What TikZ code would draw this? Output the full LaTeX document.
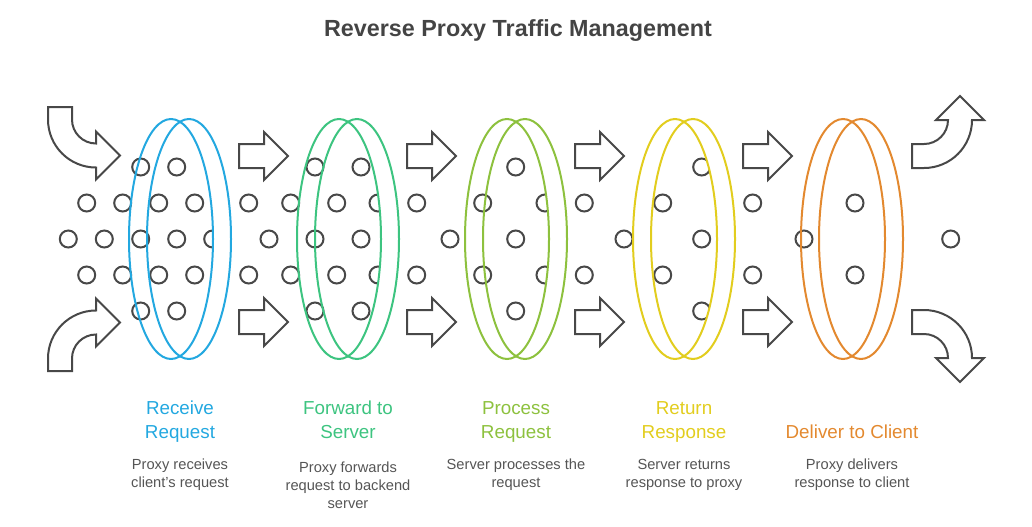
\documentclass[tikz,border=0pt]{standalone}
\usepackage{fontspec}
\setmainfont{Liberation Sans}

\definecolor{ringblue}{RGB}{35,168,224}
\definecolor{ringgreen}{RGB}{61,196,128}
\definecolor{ringolive}{RGB}{141,193,62}
\definecolor{ringyellow}{RGB}{226,205,30}
\definecolor{ringorange}{RGB}{227,137,47}
\definecolor{dotgray}{RGB}{72,72,72}
\definecolor{descgray}{RGB}{85,85,85}
\definecolor{titlegray}{RGB}{68,68,68}

% curved arrows at the two ends
\newcommand\bendin[1]{\draw[blockarrow,#1] (48,107) -- (72,107) -- (72,119.5)
  arc[start angle=180,end angle=90,radius=24] -- (96,131.5) -- (120,155.5)
  -- (96,179.5) -- (96,167.5) arc[start angle=90,end angle=180,radius=48] -- cycle;}
\newcommand\bendout[1]{\draw[blockarrow,#1] (912,144) -- (924,144)
  arc[start angle=90,end angle=0,radius=24] -- (936,120) -- (960,96) -- (984,120)
  -- (972,120) arc[start angle=0,end angle=90,radius=48] -- (912,168) -- cycle;}

\begin{document}
\begin{tikzpicture}[x=0.75pt,y=-0.75pt]
    \tikzstyle{dot}=[draw=dotgray,line width=1.5pt]
    \tikzstyle{blockarrow}=[draw=dotgray,line width=1.5pt,fill=white]
    \tikzstyle{ring}=[line width=1.5pt]
    \tikzstyle{steptitle}=[anchor=south,inner sep=0pt,text depth=0pt,align=center,font=\fontsize{14.1}{17.5}\selectfont]
    \tikzstyle{stepdesc}=[anchor=north,inner sep=0pt,align=center,text=descgray,font=\fontsize{11}{13.5}\selectfont]
    \useasboundingbox (0,0) rectangle (1032,526);

    \node[font=\bfseries\fontsize{17.5}{21}\selectfont,text=titlegray] (title) at (518,31) {Reverse Proxy Traffic Management};

    % traffic dots
    \foreach \x/\y in {140.7/167,176.7/167,86.7/203,122.7/203,158.7/203,194.7/203,
        68.3/239,104.3/239,140.7/239,176.7/239,212.7/239,
        86.7/275,122.7/275,158.7/275,194.7/275,140.7/311,176.7/311,
        315/167,361/167,248.7/203,290.7/203,336.7/203,378/203,269/239,315/239,361/239,
        248.7/275,290.7/275,336.7/275,378/275,315/311,361/311,
        515.7/167,416.7/203,482.7/203,545/203,450/239,515.7/239,416.7/275,482.7/275,545/275,515.7/311,
        701.7/167,584.3/203,662.7/203,752.7/203,624/239,701.7/239,584.3/275,662.7/275,752.7/275,701.7/311,
        855/203,804/239,950.7/239,855/275}
        \draw[dot] (\x,\y) circle[radius=8.5];

    % rings
    \foreach \c/\col in {180/ringblue,348/ringgreen,516/ringolive,684/ringyellow,852/ringorange}{
        \begin{scope}
            \clip (\c+9,239) ellipse[x radius=42,y radius=120];
            \fill[white,even odd rule] (\c+9,239) ellipse[x radius=42,y radius=120] (\c-9,239) ellipse[x radius=42,y radius=120];
        \end{scope}
        \draw[ring,\col] (\c-9,239) ellipse[x radius=42,y radius=120];
        \draw[ring,\col] (\c+9,239) ellipse[x radius=42,y radius=120];
    }

    % straight arrows
    \foreach \l in {239,407,575,743}
        \foreach \m in {156,322}
            \draw[blockarrow] (\l,\m-12) -- (\l+25,\m-12) -- (\l+25,\m-24) -- (\l+49,\m) -- (\l+25,\m+24) -- (\l+25,\m+12) -- (\l,\m+12) -- cycle;

    \bendin{}
    \bendin{shift={(0,478)},yscale=-1}
    \bendout{}
    \bendout{shift={(0,478)},yscale=-1}

    % labels
    \node[steptitle,text=ringblue] (lbl1) at (180,438.5) {Receive\\Request};
    \node[steptitle,text=ringgreen] (lbl2) at (348,438.5) {Forward to\\Server};
    \node[steptitle,text=ringolive] (lbl3) at (516,438.5) {Process\\Request};
    \node[steptitle,text=ringyellow] (lbl4) at (684,438.5) {Return\\Response};
    \node[steptitle,text=ringorange] (lbl5) at (852,438.5) {Deliver to Client};

    \node[stepdesc] (desc1) at (180,459) {Proxy receives\\client's request};
    \node[stepdesc] (desc2) at (348,462) {Proxy forwards\\request to backend\\server};
    \node[stepdesc] (desc3) at (516,459) {Server processes the\\request};
    \node[stepdesc] (desc4) at (684,459) {Server returns\\response to proxy};
    \node[stepdesc] (desc5) at (852,459) {Proxy delivers\\response to client};
\end{tikzpicture}
\end{document}
